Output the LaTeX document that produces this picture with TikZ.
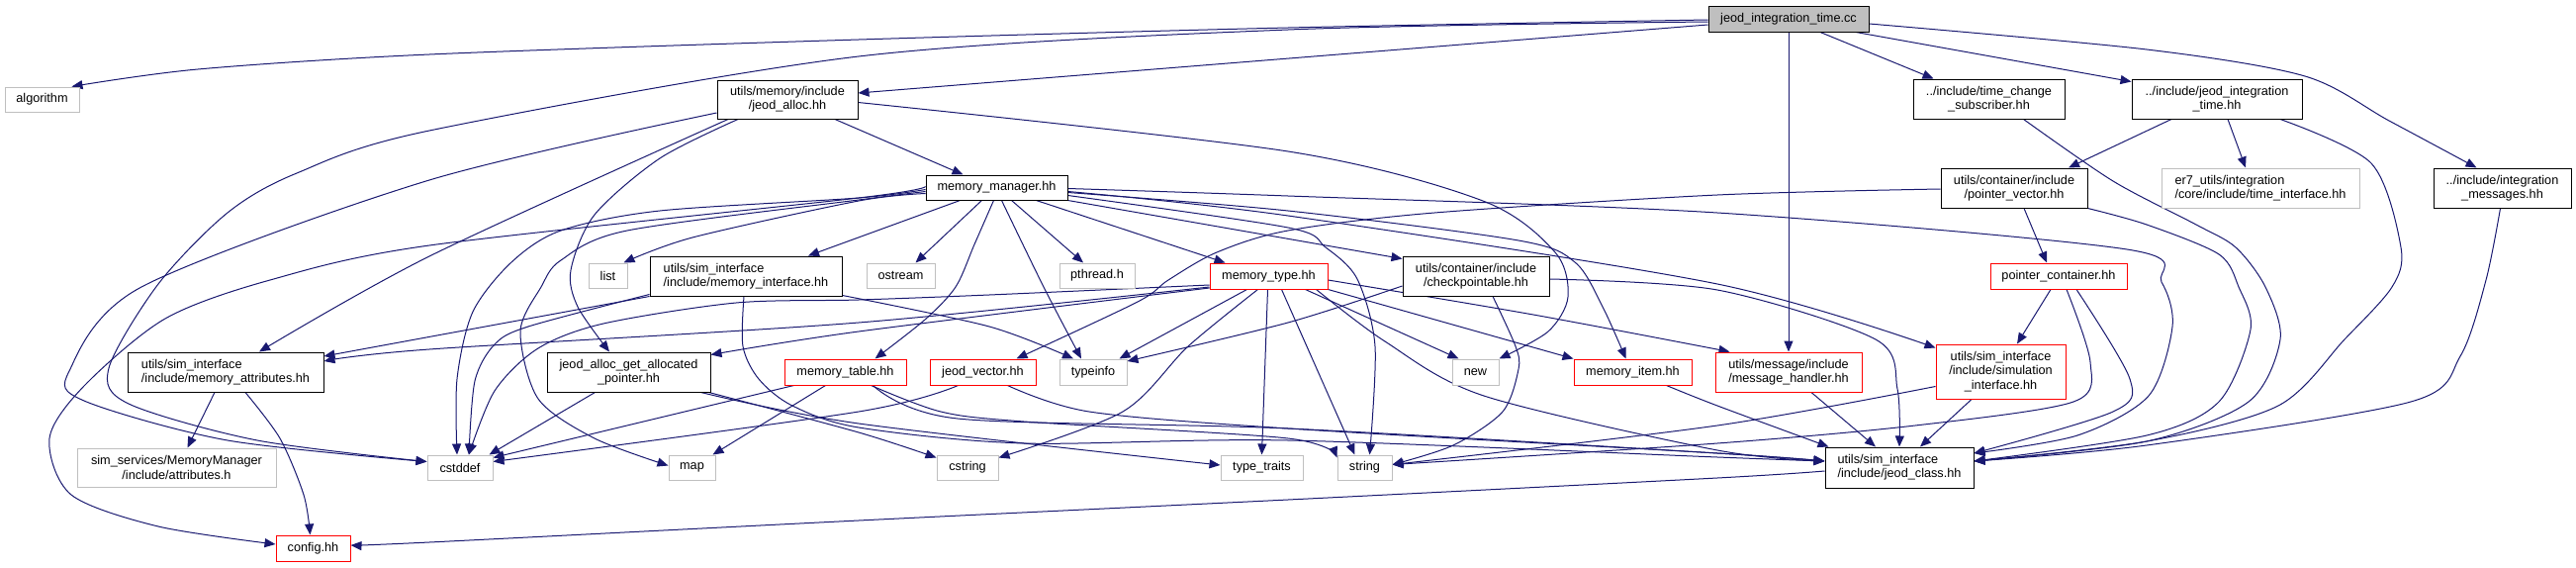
\documentclass[tikz,border=0pt]{standalone}
\usepackage{fontspec}
\setmainfont{Liberation Sans}
\usetikzlibrary{arrows.meta}
\definecolor{edgec}{HTML}{191970}
\definecolor{grayb}{HTML}{BFBFBF}
\definecolor{rootg}{HTML}{BFBFBF}
\definecolor{redb}{HTML}{FF0000}
\pgfdeclarelayer{bg}
\pgfsetlayers{bg,main}
\newcommand\cnx[1]{\draw[edg] plot[smooth,tension=0.5] coordinates {#1};}
\tikzset{
  base/.style={draw, fill=white, inner sep=0pt, line width=1pt, text=black, align=center,
    font=\fontsize{12.7pt}{14.3pt}\selectfont},
  dk/.style={base, draw=black},
  gr/.style={base, draw=grayb},
  rd/.style={base, draw=redb},
  sz/.style 2 args={minimum width=#1pt, minimum height=#2pt},
  edg/.style={draw=edgec, line width=1pt, -{Triangle[length=11pt,width=9pt]}},
}
\begin{document}
\begin{tikzpicture}[x=1pt,y=-1pt]
\useasboundingbox (0,0) rectangle (2604,573);
% nodes
\node[dk, sz={162}{26}, fill=rootg] (root) at (1808,19) {jeod\_integration\_time.cc};
\node[gr, sz={75}{25}] (algo) at (42.5,100.5) {algorithm};
\node[dk, sz={142}{39}] (jalloc) at (796,100.5) {utils/memory/include\\/jeod\_alloc.hh};
\node[dk, sz={143}{25}] (mm) at (1007.5,189.5) {memory\_manager.hh};
\node[gr, sz={39}{25}] (list) at (614.5,278.5) {list};
\node[dk, sz={194}{40}, align=left] (mif) at (754,279) {utils/sim\_interface\\/include/memory\_interface.hh};
\node[gr, sz={69}{25}] (ostream) at (910.5,278.5) {ostream};
\node[gr, sz={76}{25}] (pthread) at (1109,278.5) {pthread.h};
\node[rd, sz={119}{26}] (mtype) at (1282.5,279) {memory\_type.hh};
\node[dk, sz={148}{40}] (ckpt) at (1492,279) {utils/container/include\\/checkpointable.hh};
\node[dk, sz={153}{40}] (tcs) at (2010.5,100) {../include/time\_change\\\_subscriber.hh};
\node[dk, sz={172}{40}] (jith) at (2241,100) {../include/jeod\_integration\\\_time.hh};
\node[dk, sz={139}{40}] (imsg) at (2529.5,190) {../include/integration\\\_messages.hh};
\node[gr, sz={200}{40}, align=left] (tif) at (2285,190) {er7\_utils/integration\\/core/include/time\_interface.hh};
\node[dk, sz={148}{40}] (pvec) at (2036,190) {utils/container/include\\/pointer\_vector.hh};
\node[rd, sz={138}{26}] (pcont) at (2081,279) {pointer\_container.hh};
\node[dk, sz={198}{40}, align=left] (mattr) at (228,376) {utils/sim\_interface\\/include/memory\_attributes.hh};
\node[gr, sz={201}{39}] (sattr) at (178.5,472.5) {sim\_services/MemoryManager\\/include/attributes.h};
\node[rd, sz={75}{26}] (config) at (316.5,554) {config.hh};
\node[gr, sz={66}{25}] (cstddef) at (465,472.5) {cstddef};
\node[dk, sz={165}{40}] (jagap) at (635.5,376) {jeod\_alloc\_get\_allocated\\\_pointer.hh};
\node[gr, sz={47}{25}] (map) at (699.5,472.5) {map};
\node[rd, sz={123}{26}] (mtab) at (854.5,376) {memory\_table.hh};
\node[rd, sz={107}{26}] (jvec) at (993.5,376) {jeod\_vector.hh};
\node[gr, sz={68}{26}] (typeinfo) at (1105,376) {typeinfo};
\node[gr, sz={62}{25}] (cstring) at (978,472.5) {cstring};
\node[gr, sz={83}{25}] (ttraits) at (1275.5,472.5) {type\_traits};
\node[gr, sz={55}{25}] (string) at (1379.5,472.5) {string};
\node[gr, sz={47}{26}] (nw) at (1491.5,376) {new};
\node[rd, sz={119}{26}] (mitem) at (1650.5,376) {memory\_item.hh};
\node[rd, sz={148}{40}, align=left] (mhand) at (1808,376) {utils/message/include\\/message\_handler.hh};
\node[rd, sz={131}{55}] (simif) at (2022.5,375.5) {utils/sim\_interface\\/include/simulation\\\_interface.hh};
\node[dk, sz={150}{41}, align=left] (jclass) at (1920,472.5) {utils/sim\_interface\\/include/jeod\_class.hh};

\begin{pgfonlayer}{bg}
% root
\cnx{([yshift=-1pt]root.west) (1302,28) (868,40) (434,55) (200,70) ([xshift=-8pt]algo.north east)}
\draw[edg] ([yshift=-6pt]root.west) -- ([yshift=6.5pt]jalloc.east);
\cnx{([yshift=-3pt]root.west) (1302,30) (868,57) (434,132) (300,175) (230,215) (160,287) (110,372) (130,408) (260,445) ([yshift=6pt]cstddef.west)}
\draw[edg] ([xshift=32pt]root.south) -- ([xshift=-56pt]tcs.north);
\draw[edg] ([xshift=68pt]root.south) -- ([yshift=-3pt]jith.north west);
\cnx{([yshift=-5pt]root.east) (2170,50) (2330,77) (2415,122) ([xshift=-26pt]imsg.north)}
\draw[edg] (root.south) -- (mhand.north);
% jeod_alloc
\draw[edg] ([xshift=48pt]jalloc.south) -- ([xshift=-34pt]mm.north);
\cnx{([yshift=-3pt]jalloc.east) (1302,153) (1499,203) (1572,255) (1585,300) (1565,335) (nw.north east)}
\cnx{([xshift=-50pt]jalloc.south) (667,160) (601,217) (577,273) (584,310) ([xshift=-19.5pt]jagap.north)}
\cnx{([xshift=-60pt]jalloc.south) (434,259) ([xshift=34pt]mattr.north)}
\cnx{([yshift=-13.5pt]jalloc.west) (434,182) (143,290) (70,375) (85,405) (230,445) ([yshift=6pt]cstddef.west)}
% memory_manager
\cnx{([yshift=-6pt]mm.west) (868,203) (700,240) ([xshift=-4pt]list.north east)}
\draw[edg] ([xshift=-37pt]mm.south) -- ([xshift=63pt]mif.north);
\draw[edg] ([xshift=-15pt]mm.south) -- ([xshift=15pt]ostream.north);
\cnx{([xshift=-3pt]mm.south) (985,247) (966,290) (935,323) ([xshift=30pt]mtab.north)}
\cnx{([xshift=5pt]mm.south) (1055,290) ([xshift=-12pt]typeinfo.north)}
\draw[edg] ([xshift=15pt]mm.south) -- ([xshift=-14pt]pthread.north);
\draw[edg] ([xshift=40pt]mm.south) -- ([xshift=-44pt]mtype.north);
\draw[edg] (mm.south east) -- ([yshift=-3pt]ckpt.north west);
\cnx{([yshift=-8pt]mm.east) (1302,230) (1340,250) (1372,282) (1390,350) ([xshift=5pt]string.north)}
\cnx{([yshift=-5pt]mm.east) (1302,213) (1535,243) (1592,265) (1620,310) ([xshift=-7pt]mitem.north)}
\cnx{([yshift=-4pt]mm.east) (1302,218) (1736,287) ([yshift=-4pt]simif.north west)}
\cnx{([yshift=-1pt]mm.east) (1302,198) (1736,215) (2150,252) (2185,285) (2196,330) (2172,400) (2100,440) ([yshift=14.5pt]jclass.east)}
\cnx{([yshift=1pt]mm.west) (868,200) (434,248) (273,283) (167,322) (85,390) (50,443) (72,500) (160,532) ([yshift=4pt]config.west)}
\cnx{([yshift=-2pt]mm.west) (868,200) (667,213) (567,233) (517,265) (478,315) (462,383) ([xshift=-3pt]cstddef.north)}
\cnx{([yshift=-4pt]mm.west) (868,202) (634,233) (567,263) (547,290) (526,335) (544,403) (601,443) ([yshift=2pt]map.west)}
% memory_interface
\draw[edg] (mif.south west) -- ([yshift=16pt]mattr.east);
\cnx{([yshift=2pt]mif.south west) (534,330) (500,348) (480,385) ([xshift=9pt]cstddef.north)}
\cnx{([yshift=1pt]mif.south east) (1000,330) ([xshift=-20pt]typeinfo.north)}
\cnx{([xshift=-2pt]mif.south) (751,350) (767,383) (801,410) (868,432) (1035,448) (1302,445) (1736,462) ([yshift=6.5pt]jclass.west)}
% jeod_alloc_get_allocated_pointer
\draw[edg] ([xshift=-34pt]jagap.south) -- ([xshift=-4pt]cstddef.north east);
\cnx{([xshift=-10pt]jagap.south east) (868,428) ([yshift=2.5pt]ttraits.west)}
\cnx{([xshift=-2pt]jagap.south east) (868,437) ([yshift=-3pt]cstring.north west)}
% memory_type
\cnx{([yshift=-11pt]mtype.west) (868,326) (434,353) ([yshift=11pt]mattr.east)}
\cnx{([yshift=-12pt]mtype.west) (868,335) ([yshift=-3pt]jagap.north east)}
\cnx{([yshift=-9pt]mtype.west) (1000,298) (868,303) (744,306) (610,327) (544,352) (500,395) ([xshift=9pt]cstddef.north)}
\draw[edg] ([xshift=-22pt]mtype.south) -- ([xshift=-8pt]typeinfo.north east);
\cnx{([xshift=-11pt]mtype.south) (1201,350) (1135,416) ([yshift=-3pt]cstring.north east)}
\draw[edg] ([xshift=-1pt]mtype.south) -- (ttraits.north);
\draw[edg] ([xshift=13pt]mtype.south) -- ([xshift=-10pt]string.north);
\draw[edg] ([xshift=37pt]mtype.south) -- ([xshift=7pt]nw.north west);
\draw[edg] (mtype.south east) -- (mitem.north west);
\cnx{([yshift=-4pt]mtype.east) (1550,318) ([xshift=15pt]mhand.north west)}
\cnx{([xshift=48pt]mtype.south) (1400,345) (1500,400) (1736,455) ([yshift=6.5pt]jclass.west)}
% checkpointable
\cnx{([yshift=-10pt]ckpt.west) (1302,326) ([yshift=11pt]typeinfo.east)}
\cnx{([xshift=17pt]ckpt.south) (1532,350) (1535,373) (1519,416) (1469,450) ([yshift=3pt]string.east)}
\cnx{([yshift=-3pt]ckpt.east) (1736,293) (1896,343) (1918,393) (jclass.north)}
% memory_table
\draw[edg] ([xshift=-52pt]mtab.south) -- ([yshift=10pt]cstddef.east);
\draw[edg] ([xshift=-20pt]mtab.south) -- ([xshift=-3pt]map.north east);
\cnx{([xshift=26pt]mtab.south) (951,416) (1035,426) (1302,443) ([yshift=-3pt]string.north west)}
\cnx{([xshift=28pt]mtab.south) (968,423) (1302,433) (1736,458) ([yshift=6.5pt]jclass.west)}
% jeod_vector
\cnx{([xshift=-25pt]jvec.south) (868,416) ([yshift=6pt]cstddef.east)}
\cnx{([xshift=25pt]jvec.south) (1101,416) (1302,433) (1736,458) ([yshift=6.5pt]jclass.west)}
% pointer_vector
\cnx{([yshift=-1pt]pvec.west) (1736,197) (1450,215) (1302,233) (1230,255) (1181,283) (1150,305) ([xshift=34pt]jvec.north)}
\draw[edg] ([xshift=10pt]pvec.south) -- ([xshift=-12pt]pcont.north);
\cnx{(pvec.south east) (2170,227) (2243,257) (2263,290) (2275,333) (2243,406) (2170,440) ([yshift=6.5pt]jclass.east)}
% time_change_subscriber
\cnx{([xshift=35pt]tcs.south) (2136,183) (2220,227) (2260,250) (2290,290) (2305,343) (2273,406) (2170,446) ([yshift=6.5pt]jclass.east)}
% jeod_integration_time.hh
\draw[edg] ([xshift=-46pt]jith.south) -- ([xshift=55pt]pvec.north);
\draw[edg] ([xshift=11pt]jith.south) -- ([xshift=-15pt]tif.north);
\cnx{([xshift=64pt]jith.south) (2397,165) (2427,250) (2418,290) (2370,343) (2303,410) (2170,446) ([yshift=6.5pt]jclass.east)}
% integration_messages
\cnx{([xshift=-2pt]imsg.south) (2513,283) (2487,360) (2437,406) (2170,450) ([yshift=6.5pt]jclass.east)}
% pointer_container
\draw[edg] ([xshift=-8pt]pcont.south) -- ([xshift=16.5pt]simif.north);
\cnx{([xshift=8pt]pcont.south) (2113,366) (2096,406) (1936,430) (1736,448) ([yshift=3pt]string.east)}
\cnx{([xshift=18pt]pcont.south) (2153,383) (2136,416) ([yshift=14.5pt]jclass.east)}
% simulation_interface
\draw[edg] ([xshift=-29.5pt]simif.south) -- ([xshift=21pt]jclass.north);
\cnx{([yshift=-15pt]simif.west) (1736,430) ([yshift=3pt]string.east)}
% message_handler, memory_item
\draw[edg] ([xshift=23pt]mhand.south) -- ([xshift=-24pt]jclass.north);
\cnx{([xshift=34pt]mitem.south) (1736,410) ([xshift=4pt]jclass.north west)}
% memory_attributes
\draw[edg] ([xshift=-11pt]mattr.south) -- ([xshift=11pt]sattr.north);
\cnx{([xshift=20pt]mattr.south) (283,443) (307,500) ([xshift=-3pt]config.north)}
% jeod_class
\cnx{([yshift=-3.5pt]jclass.west) (1736,483) (1302,505) (868,526) (434,548) ([yshift=3pt]config.east)}
\end{pgfonlayer}
\end{tikzpicture}
\end{document}
